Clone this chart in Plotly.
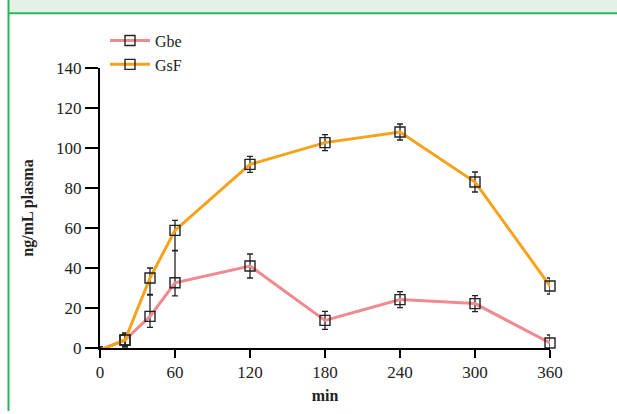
import plotly.graph_objects as go

minutes = [0, 20, 40, 60, 120, 180, 240, 300, 360]
gbe = [-1, 4, 15.8, 32.6, 41, 13.8, 24.2, 22.2, 2.5]
gbe_err_plus = [1.5, 3, 11, 16, 6, 4.5, 4, 4, 4]
gbe_err_minus = [1.5, 3, 5.5, 6.5, 6, 4.5, 4, 4, 4]
gsf = [-1, 4, 35, 58.8, 91.8, 102.7, 108, 83, 31]
gsf_err_plus = [1.5, 3.5, 5, 5, 4, 4, 4, 5, 4]
gsf_err_minus = [1.5, 3.5, 8.5, 10, 4, 4, 4, 5, 4]
x_ticks = [0, 60, 120, 180, 240, 300, 360]
y_ticks = [0, 20, 40, 60, 80, 100, 120, 140]

FONT = "Liberation Serif, Times New Roman, serif"
W, H = 617, 414
L, R, T, B = 100, 67, 68, 62
PW, PH = W - L - R, H - T - B

def px(x):
    return (x - L) / PW

def py(y):
    return (H - B - y) / PH

fig = go.Figure()
for name, vals, ep, em, col in [
    ("Gbe", gbe, gbe_err_plus, gbe_err_minus, "#F08A8E"),
    ("GsF", gsf, gsf_err_plus, gsf_err_minus, "#F7A21B"),
]:
    fig.add_trace(go.Scatter(
        x=minutes, y=vals, name=name, mode="lines+markers",
        line=dict(color=col, width=3),
        marker=dict(symbol="square-open", size=10, color="#222222",
                    line=dict(width=1.4, color="#222222")),
        error_y=dict(type="data", array=ep, arrayminus=em, symmetric=False,
                     color="#222222", thickness=1.3, width=3),
        cliponaxis=False,
    ))

fig.update_layout(
    width=W, height=H,
    margin=dict(l=L, r=R, t=T, b=B),
    paper_bgcolor="white", plot_bgcolor="white",
    font=dict(family=FONT, size=17, color="#222222"),
    showlegend=True,
    legend=dict(x=px(105), y=py(23), xanchor="left", yanchor="top",
                bgcolor="rgba(0,0,0,0)", font=dict(family=FONT, size=16),
                itemwidth=40, tracegroupgap=0),
    xaxis=dict(range=[0, 360], tickvals=x_ticks, showgrid=False, zeroline=False,
               showline=True, linecolor="black", linewidth=2,
               ticks="outside", ticklen=8, tickwidth=2, tickcolor="black",
               tickfont=dict(family=FONT, size=17),
               title=dict(text="<b>min</b>", font=dict(family=FONT, size=16), standoff=8)),
    yaxis=dict(range=[0, 140], tickvals=y_ticks, showgrid=False, zeroline=False,
               showline=True, linecolor="black", linewidth=2,
               ticks="outside", ticklen=13, tickwidth=2, tickcolor="black",
               tickfont=dict(family=FONT, size=17),
               title=dict(text="<b>ng/mL plasma</b>", font=dict(family=FONT, size=16), standoff=18)),
    shapes=[
        dict(type="rect", xref="paper", yref="paper",
             x0=px(8), x1=px(620), y0=py(12), y1=py(-2),
             fillcolor="#E2F2E6", line=dict(width=0), layer="below"),
        dict(type="line", xref="paper", yref="paper",
             x0=px(8), x1=px(620), y0=py(12.5), y1=py(12.5),
             line=dict(color="#2DB35D", width=2)),
        dict(type="line", xref="paper", yref="paper",
             x0=px(8.5), x1=px(8.5), y0=py(-2), y1=py(416),
             line=dict(color="#2DB35D", width=2)),
    ],
)

fig.write_html("out.html", config={"displayModeBar": False},
               post_script="document.body.style.margin='0';document.body.style.overflow='hidden';")
